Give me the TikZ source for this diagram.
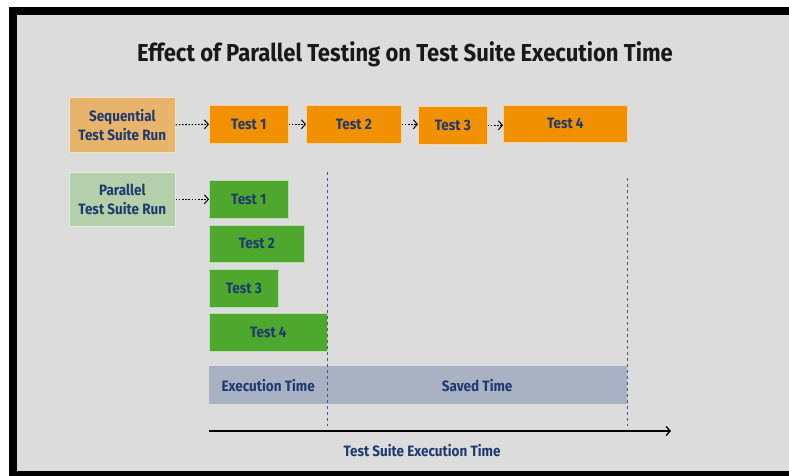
\documentclass[tikz,border=0pt]{standalone}
\usepackage{fontspec}
\setmainfont{Fira Sans}[FakeStretch=0.9]
\usetikzlibrary{arrows.meta}
\definecolor{bggray}{HTML}{DCDCDC}
\definecolor{navy}{HTML}{1F3A6E}
\definecolor{seqlabel}{HTML}{E8B46C}
\definecolor{seqtest}{HTML}{F29100}
\definecolor{parlabel}{HTML}{B4CFA9}
\definecolor{partest}{HTML}{4EA82E}
\definecolor{barfill}{HTML}{A8B2C2}
\definecolor{guide}{HTML}{4A5A7A}
\tikzset{
  lbl/.style={font=\fontsize{15}{19.5}\selectfont\bfseries, text=navy, align=center},
  labelbox/.style={lbl, anchor=north west, inner sep=0pt, draw=white!60!#1, line width=0.6pt, fill=#1},
  seqbox/.style={labelbox=seqtest},
  parbox/.style={labelbox=partest},
  flow/.style={line width=1pt, dash pattern=on 1.6pt off 1.6pt, -{Straight Barb[length=4pt,width=9pt]}},
  guideline/.style={guide, line width=0.8pt, dash pattern=on 3pt off 3pt},
}
\begin{document}
\begin{tikzpicture}[x=1pt, y=-1pt]
  % frame and canvas
  \useasboundingbox (0,0) rectangle (789,476);
  \fill[white] (0,0) rectangle (789,476);
  \fill[black] (9,7) rectangle (789,476);
  \fill[bggray] (17,15) rectangle (789,471);

  % title
  \node[font=\fontsize{24.5}{28}\selectfont\bfseries, text=black!90] (title) at (405,54)
    {Effect of Parallel Testing on Test Suite Execution Time};

  % sequential run
  \node[labelbox=seqlabel, minimum width=106pt, minimum height=55pt] (seq) at (69,97)
    {Sequential\\Test Suite Run};
  \node[seqbox, minimum width=79pt,  minimum height=38pt] (s1) at (209,105) {Test 1};
  \node[seqbox, minimum width=95pt,  minimum height=38pt] (s2) at (306,105) {Test 2};
  \node[seqbox, minimum width=69pt,  minimum height=38pt] (s3) at (418,106) {Test 3};
  \node[seqbox, minimum width=124pt, minimum height=37pt] (s4) at (503,105) {Test 4};
  \draw[flow] (seq.east) -- (s1.west);
  \draw[flow] (s1.east) -- (s1.east -| s2.west);
  \draw[flow] (s2.east) -- (s2.east -| s3.west);
  \draw[flow] (s3.east) -- (s3.east -| s4.west);

  % parallel run
  \node[labelbox=parlabel, minimum width=106pt, minimum height=54pt] (par) at (69,172)
    {Parallel\\Test Suite Run};
  \node[parbox, minimum width=79pt,  minimum height=38pt] (p1) at (209,180) {Test 1};
  \node[parbox, minimum width=95pt,  minimum height=37pt] (p2) at (209,225) {Test 2};
  \node[parbox, minimum width=69pt,  minimum height=38pt] (p3) at (209,269) {Test 3};
  \node[parbox, minimum width=118pt, minimum height=38pt] (p4) at (209,313) {Test 4};
  \draw[flow] (par.east) -- (par.east -| p1.west);

  % time bar
  \node[lbl, anchor=north west, inner sep=0pt, fill=barfill, minimum width=118pt, minimum height=38pt] (exec) at (209,366) {Execution Time};
  \node[lbl, anchor=north west, inner sep=0pt, fill=barfill, minimum width=300pt, minimum height=38pt] (saved) at (327,366) {Saved Time};

  % guide lines
  \coordinate (g1top) at (327,172);
  \coordinate (g1bot) at (327,426);
  \coordinate (g2top) at (627,178);
  \coordinate (g2bot) at (627,426);
  \draw[guideline] (g1top) -- (g1bot);
  \draw[guideline] (g2top) -- (g2bot);

  % time axis
  \coordinate (axstart) at (209,431);
  \coordinate (axend) at (671,431);
  \draw[line width=1.3pt, -{Straight Barb[length=4pt,width=9pt]}] (axstart) -- (axend);
  \node[lbl] (axlabel) at (422,451) {Test Suite Execution Time};
\end{tikzpicture}
\end{document}
